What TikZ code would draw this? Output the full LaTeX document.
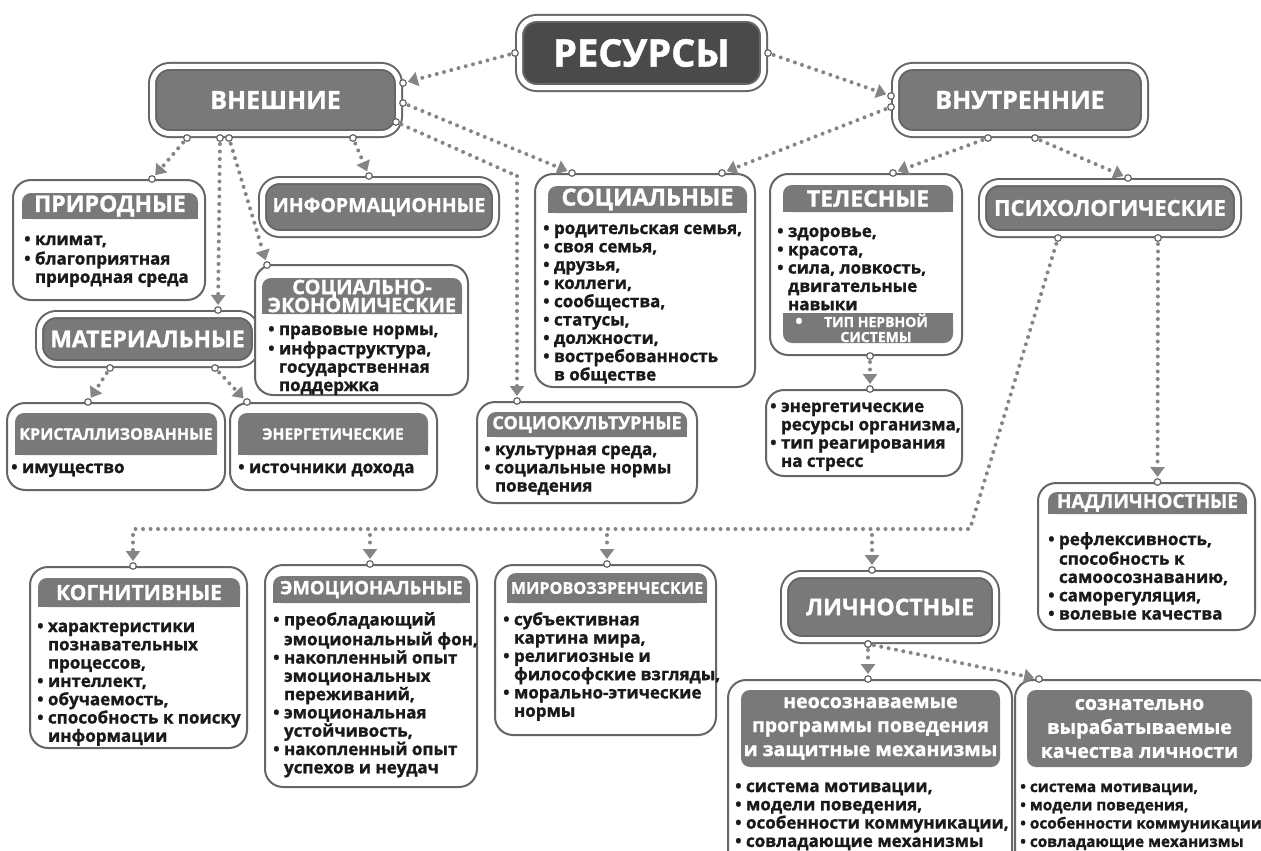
\documentclass[tikz,border=0pt]{standalone}
\usepackage{fontspec}
\setmainfont{Open Sans}[BoldFeatures={FakeBold=1.2}]
\usetikzlibrary{arrows.meta,fit,calc}
\definecolor{hdr}{HTML}{797979}
\definecolor{dark}{HTML}{4A4A4A}
\definecolor{frame}{HTML}{666666}
\definecolor{dotc}{HTML}{858585}
\definecolor{txt}{HTML}{1A1A1A}
\tikzset{
 topbox/.style={rounded corners=17pt, fill=hdr, draw=frame, line width=2pt, double=white, double distance=5pt, outer sep=4.5pt, inner sep=0pt, text=white, font=\bfseries\fontsize{23}{25}\selectfont},
 cbox/.style={rounded corners=18pt, draw=frame, fill=white, line width=2pt, inner sep=0pt},
 band/.style={rounded corners=9pt, fill=hdr, inner sep=0pt},
 htext/.style={text=white, font=\bfseries\fontsize{20}{21}\selectfont, align=center, inner sep=0pt},
 list/.style={text=txt, font=\bfseries\fontsize{17}{18.3}\selectfont, align=left, anchor=north west, inner sep=0pt},
 conn/.style={draw=dotc, line width=4pt, dash pattern=on 0pt off 7.5pt, line cap=round, shorten <=6pt, shorten >=5pt, -{Triangle[length=10pt,width=14pt]}},
 connplain/.style={draw=dotc, line width=4pt, dash pattern=on 0pt off 7.5pt, line cap=round},
 ring/.style={draw=frame, fill=white, line width=1.2pt},
}
\newcommand\fs[1]{\fontsize{#1}{#1}\selectfont}
\newcommand\hband[4]{%
 \node[band, fit={#2 #3}] (#1) {};
 \fill[hdr] (#1.west) rectangle (#1.south east);
 \node[htext] (#1T) at (#1) {#4};}
\newcommand\link[2]{%
 \draw[conn] (#1) -- (#2);
 \draw[ring] (#1) circle[radius=3.3pt];
 \draw[ring] (#2) circle[radius=3.3pt];}
\newcommand\bl{\hphantom{• }}
\begin{document}
\begin{tikzpicture}[x=1pt,y=-1pt]
\useasboundingbox (0,0) rectangle (1261,851);
\fill[white] (0,0) rectangle (1261,851);

% top-level boxes
\node[topbox, fill=dark, minimum width=244pt, minimum height=69pt, font=\bfseries\fs{38}] (res) at (641.5,53) {РЕСУРСЫ};
\node[topbox, minimum width=246pt, minimum height=67pt, font=\bfseries\fs{25}] (vnesh) at (275.5,100) {ВНЕШНИЕ};
\node[topbox, minimum width=249pt, minimum height=67pt, font=\bfseries\fs{25}] (vnut) at (1020,100) {ВНУТРЕННИЕ};
\node[topbox, minimum width=233pt, minimum height=53pt, font=\bfseries\fs{19.5}] (info) at (379,207) {ИНФОРМАЦИОННЫЕ};
\node[topbox, minimum width=255pt, minimum height=51pt, font=\bfseries\fs{22}] (psych) at (1110,208) {ПСИХОЛОГИЧЕСКИЕ};
\node[topbox, minimum width=216pt, minimum height=49pt, font=\bfseries\fs{23}] (mat) at (147.5,339) {МАТЕРИАЛЬНЫЕ};
\node[topbox, minimum width=211pt, minimum height=65pt, font=\bfseries\fs{23}] (lich) at (890,607) {ЛИЧНОСТНЫЕ};

% content boxes
\node[cbox, fit={(13,180) (205,300)}] (prir) {};
\hband{prirH}{(22,193)}{(198,219)}{\fs{23}ПРИРОДНЫЕ}
\node[list] (prirL) at (24,232) {\strut• климат,\\• благоприятная\\\bl природная среда};

\node[cbox, fit={(255,265) (468,395)}] (socek) {};
\hband{socekH}{(262,278)}{(462,314)}{СОЦИАЛЬНО-\\[-3pt]ЭКОНОМИЧЕСКИЕ}
\node[list] (socekL) at (268,322) {\strut• правовые нормы,\\• инфраструктура,\\\bl государственная\\\bl поддержка};

\node[cbox, fit={(7,403) (225,490)}] (kryst) {};
\hband{krystH}{(15,413)}{(217,455)}{\fs{16}КРИСТАЛЛИЗОВАННЫЕ}
\node[list] (krystL) at (11,460) {\strut• имущество};

\node[cbox, fit={(230,403) (437,490)}] (energ) {};
\hband{energH}{(238,413)}{(428,455)}{\fs{15.5}ЭНЕРГЕТИЧЕСКИЕ}
\node[list] (energL) at (238,460) {\strut• источники дохода};

\node[cbox, fit={(535,174) (755,387)}] (soc) {};
\hband{socH}{(548,186)}{(747,213)}{\fs{23.5}СОЦИАЛЬНЫЕ}
\node[list] (socL) at (543,221) {\strut• родительская семья,\\• своя семья,\\• друзья,\\• коллеги,\\• сообщества,\\• статусы,\\• должности,\\• востребованность\\\bl в обществе};

\node[cbox, fit={(770,174) (962,355)}] (tel) {};
\hband{telH}{(783,185)}{(953,212)}{\fs{23}ТЕЛЕСНЫЕ}
\node[list] (telL) at (777,224) {\strut• здоровье,\\• красота,\\• сила, ловкость,\\\bl двигательные\\\bl навыки};
\node[band, fit={(783,313) (953,343)}] (telB) {};
\fill[hdr] (telB.north west) rectangle (telB.east);
\node[htext, font=\bfseries\fontsize{14}{15}\selectfont] (telBT) at (876,328) {ТИП НЕРВНОЙ\\СИСТЕМЫ};
\node[htext, anchor=west] (telBb) at (795,323) {•};

\node[cbox, fit={(766,390) (962,476)}] (energy) {};
\node[list] (energyL) at (770,399) {\strut• энергетические\\\bl ресурсы организма,\\• тип реагирования\\\bl на стресс};

\node[cbox, fit={(477,402) (697,503)}] (socult) {};
\hband{socultH}{(487,412)}{(687,437)}{\fs{18}СОЦИОКУЛЬТУРНЫЕ}
\node[list] (socultL) at (484,442) {\strut• культурная среда,\\• социальные нормы\\\bl поведения};

\node[cbox, fit={(1038,483) (1255,630)}] (nadl) {};
\hband{nadlH}{(1048,492)}{(1247,514)}{\fs{19}НАДЛИЧНОСТНЫЕ}
\node[list] (nadlL) at (1048,532) {\strut• рефлексивность,\\\bl способность к\\\bl самоосознаванию,\\• саморегуляция,\\• волевые качества};

\node[cbox, fit={(30,567) (247,748)}] (kogn) {};
\hband{kognH}{(38,578)}{(240,607)}{\fs{21}КОГНИТИВНЫЕ}
\node[list] (kognL) at (37,619) {\strut• характеристики\\\bl познавательных\\\bl процессов,\\• интеллект,\\• обучаемость,\\• способность к поиску\\\bl информации};

\node[cbox, fit={(265,565) (477,787)}] (emo) {};
\hband{emoH}{(273,576)}{(470,603)}{\fs{18.5}ЭМОЦИОНАЛЬНЫЕ}
\node[list] (emoL) at (273,612) {\strut• преобладающий\\\bl эмоциональный фон,\\• накопленный опыт\\\bl эмоциональных\\\bl переживаний,\\• эмоциональная\\\bl устойчивость,\\• накопленный опыт\\\bl успехов и неудач};

\node[cbox, fit={(495,565) (716,735)}] (mir) {};
\hband{mirH}{(507,573)}{(707,603)}{\fs{16.2}МИРОВОЗЗРЕНЧЕСКИЕ}
\node[list] (mirL) at (503,612) {\strut• субъективная\\\bl картина мира,\\• религиозные и\\\bl философские взгляды,\\• морально-этические\\\bl нормы};

\node[cbox, fit={(728,680) (1012,870)}] (neos) {};
\node[band, fit={(741,690) (1000,767)}] (neosH) {};
\node[htext, font=\bfseries\fontsize{19.5}{24}\selectfont] (neosHT) at (neosH) {неосознаваемые\\программы поведения\\и защитные механизмы};
\node[list] (neosL) at (735,779) {\strut• система мотивации,\\• модели поведения,\\• особенности коммуникации,\\• совладающие механизмы};

\node[cbox, fit={(1015,680) (1275,870)}] (sozn) {};
\node[band, fit={(1027,690) (1252,767)}] (soznH) {};
\node[htext, font=\bfseries\fontsize{19.5}{24}\selectfont] (soznHT) at (soznH) {сознательно\\вырабатываемые\\качества личности};
\node[list, font=\bfseries\fontsize{15.3}{18.3}\selectfont] (soznL) at (1020,779) {\strut• система мотивации,\\• модели поведения,\\• особенности коммуникации\\• совладающие механизмы};

% connectors
\link{res.west}{$(vnesh.east)+(0,-17)$}
\link{res.east}{$(vnut.west)+(0,-4)$}
\link{$(vnesh.east)+(0,3)$}{$(soc.north west)+(38,0)$}
\link{$(vnut.west)+(0,7)$}{$(soc.north east)+(-34,0)$}
\link{$(vnesh.south)+(-88.5,0)$}{$(prir.north)+(43,0)$}
\link{$(vnesh.south)+(-55.5,0)$}{$(mat.north)+(70.5,0)$}
\link{$(vnesh.south)+(-46.5,0)$}{$(socek.north west)+(13,1)$}
\link{$(vnesh.south)+(77.5,0)$}{$(info.north)+(-10,0)$}
\coordinate (bend1) at (517,176);
\draw[connplain, shorten <=6pt] ($(vnesh.south east)+(-7,-16)$) -- (bend1);
\draw[conn, shorten <=0pt] (bend1) -- (socult.north -| bend1);
\draw[ring] ($(vnesh.south east)+(-7,-16)$) circle[radius=3.3pt];
\draw[ring] (socult.north -| bend1) circle[radius=3.3pt];
\link{$(vnut.south)+(-32,0)$}{$(tel.north)+(27,0)$}
\link{$(vnut.south)+(15,0)$}{$(psych.north)+(18,0)$}
\link{$(tel.south)+(4,0)$}{$(energy.north)+(6,0)$}
\link{$(psych.south)+(48,0)$}{$(nadl.north)+(11,0)$}
\link{$(mat.south)+(-37.5,0)$}{$(kryst.north)+(-28,0)$}
\link{$(mat.south)+(67.5,0)$}{$(energ.north)+(-86.5,0)$}
\link{$(lich.south)+(-22,0)$}{$(neos.north)+(-2,0)$}
\link{$(lich.south)+(-22,0)$}{$(sozn.north west)+(25,0)$}
% psychological branch
\coordinate (hR) at (970,529);
\coordinate (hL) at (133,529);
\coordinate (b2) at (370,529);
\coordinate (b3) at (607,529);
\coordinate (b4) at (872,529);
\draw[connplain, shorten <=6pt] ($(psych.south)+(-52,0)$) -- (hR) -- (hL);
\draw[ring] ($(psych.south)+(-52,0)$) circle[radius=3.3pt];
\foreach \b/\n in {hL/kogn, b2/emo, b3/mir, b4/lich}{
 \draw[conn] (\b) -- (\n.north -| \b);
 \draw[ring] (\n.north -| \b) circle[radius=3.3pt];
}
\end{tikzpicture}
\end{document}
